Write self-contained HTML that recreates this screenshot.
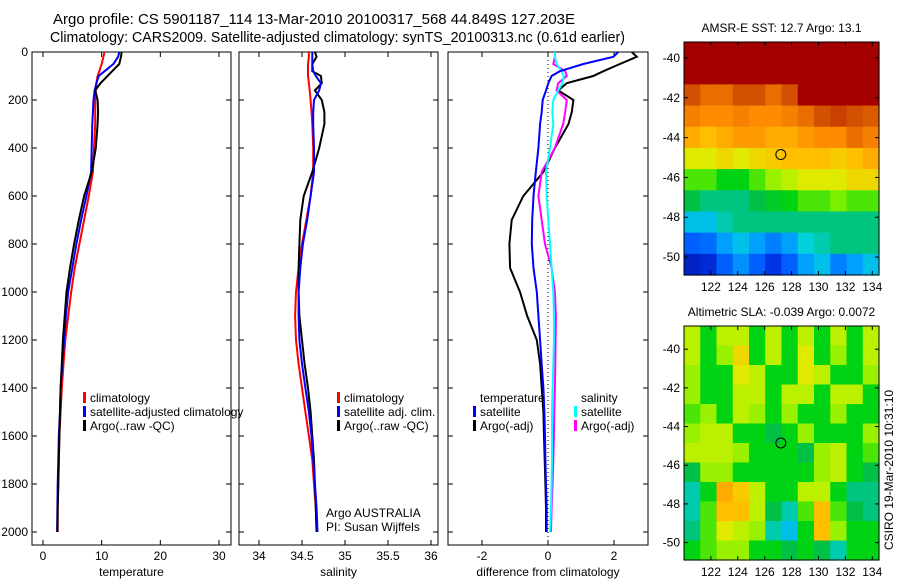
<!DOCTYPE html>
<html><head><meta charset="utf-8"><style>
body{margin:0;background:#fff;}
svg{display:block;font-family:"Liberation Sans",sans-serif;}
</style></head><body>
<svg id="c" width="900" height="580" viewBox="0 0 900 580">
<text x="53" y="24" font-size="15" textLength="522" lengthAdjust="spacingAndGlyphs">Argo profile: CS 5901187_114 13-Mar-2010 20100317_568 44.849S 127.203E</text>
<text x="50" y="42" font-size="14.5" textLength="575" lengthAdjust="spacingAndGlyphs">Climatology: CARS2009. Satellite-adjusted climatology: synTS_20100313.nc (0.61d earlier)</text>
</svg>
<script>
const depths=[0,20,50,80,100,130,160,200,250,300,400,500,600,700,800,900,1000,1100,1200,1300,1400,1500,1600,1700,1800,1900,2000];
const tempClim=[10.5,10.3,10,9.6,9.3,9.1,9.0,8.9,8.9,8.9,8.7,8.5,7.8,7.0,6.2,5.4,4.8,4.3,3.8,3.5,3.2,3.0,2.8,2.7,2.6,2.5,2.5];
const tempSat=[13,12.8,12,10.5,9.5,9.1,8.8,8.6,8.5,8.4,8.3,8.2,7.4,6.5,5.7,5.0,4.3,3.9,3.6,3.3,3.0,2.9,2.7,2.6,2.5,2.45,2.4];
const tempArgo=[13.4,13.3,13.0,11.8,11.0,9.8,8.9,9.3,9.4,9.3,9.0,8.3,7.0,6.1,5.3,4.6,4.0,3.7,3.4,3.2,3.0,2.9,2.8,2.7,2.6,2.5,2.45];
const salClim=[34.58,34.58,34.57,34.57,34.57,34.58,34.59,34.6,34.61,34.62,34.63,34.63,34.6,34.55,34.5,34.46,34.43,34.42,34.43,34.46,34.5,34.54,34.58,34.62,34.64,34.66,34.67];
const salSat=[34.62,34.62,34.62,34.63,34.66,34.72,34.7,34.64,34.63,34.63,34.64,34.64,34.6,34.56,34.51,34.48,34.46,34.46,34.47,34.5,34.54,34.58,34.61,34.63,34.65,34.67,34.68];
const salArgo=[34.65,34.67,34.62,34.62,34.72,34.73,34.65,34.73,34.76,34.76,34.7,34.62,34.52,34.48,34.47,34.46,34.46,34.47,34.5,34.53,34.57,34.6,34.62,34.64,34.65,34.66,34.67];
const diffTempSat=[2.13,1.98,1.07,0.36,0.11,0.01,-0.06,-0.16,-0.19,-0.24,-0.29,-0.37,-0.44,-0.48,-0.49,-0.44,-0.34,-0.29,-0.24,-0.19,-0.14,-0.11,-0.09,-0.08,-0.06,-0.04,-0.04];
const diffTempArgo=[2.54,2.69,2.18,1.68,1.37,0.57,0.31,0.77,0.72,0.62,0.21,-0.14,-0.75,-1.10,-1.17,-1.15,-0.85,-0.63,-0.34,-0.24,-0.19,-0.14,-0.12,-0.10,-0.08,-0.06,-0.06];
const diffSalSat=[0.21,0.21,0.26,0.41,0.48,0.44,0.31,0.16,0.13,0.16,0.06,-0.06,-0.04,0.01,0.06,0.11,0.16,0.18,0.18,0.16,0.14,0.12,0.12,0.12,0.11,0.09,0.06];
const diffSalArgo=[0.21,0.21,0.16,0.52,0.57,0.31,0.26,0.57,0.52,0.46,0.21,-0.19,-0.29,-0.19,-0.09,0.11,0.21,0.24,0.23,0.22,0.21,0.19,0.18,0.16,0.14,0.11,0.09];
const depthTicks=[0,200,400,600,800,1000,1200,1400,1600,1800,2000];
const tempTicks=[0,10,20,30];
const salTicks=[34,34.5,35,35.5,36];
const diffTicks=[-2,0,2];
const lonTicks=[122,124,126,128,130,132,134];
const latTicks=[-40,-42,-44,-46,-48,-50];
const sstGrid=[
[1,1,1,1,1,1,1,1,1,1,1,1],
[1,1,1,1,1,1,1,1,1,1,1,1],
[0.9,0.85,0.85,0.9,0.9,0.85,0.9,1,1,1,1,1],
[0.82,0.8,0.8,0.82,0.8,0.8,0.82,0.85,0.9,0.92,0.9,0.88],
[0.75,0.72,0.75,0.78,0.78,0.75,0.75,0.78,0.8,0.8,0.85,0.82],
[0.65,0.65,0.68,0.65,0.68,0.7,0.72,0.72,0.72,0.7,0.72,0.75],
[0.55,0.55,0.5,0.5,0.55,0.6,0.62,0.65,0.65,0.65,0.68,0.68],
[0.45,0.42,0.42,0.42,0.45,0.48,0.5,0.55,0.55,0.58,0.55,0.55],
[0.35,0.35,0.4,0.42,0.42,0.42,0.42,0.42,0.42,0.42,0.42,0.42],
[0.2,0.22,0.3,0.35,0.3,0.25,0.3,0.38,0.4,0.42,0.42,0.42],
[0.08,0.1,0.2,0.28,0.2,0.12,0.2,0.3,0.35,0.25,0.3,0.35]];
const slaGrid=[
[.62,.5,.62,.62,.5,.62,.5,.62,.5,.62,.5,.62],
[.62,.5,.6,.68,.5,.62,.5,.65,.5,.6,.5,.62],
[.6,.5,.5,.65,.62,.5,.5,.65,.62,.5,.5,.6],
[.6,.5,.5,.62,.62,.5,.62,.62,.5,.62,.62,.5],
[.55,.6,.5,.62,.6,.5,.6,.5,.5,.6,.5,.5],
[.6,.62,.62,.5,.5,.45,.5,.6,.5,.5,.5,.6],
[.62,.62,.62,.6,.5,.5,.5,.45,.6,.62,.5,.55],
[.45,.6,.6,.5,.5,.5,.5,.5,.6,.62,.5,.45],
[.4,.5,.75,.7,.62,.5,.5,.62,.62,.5,.42,.42],
[.4,.55,.72,.72,.62,.45,.4,.55,.72,.55,.45,.42],
[.42,.55,.65,.62,.6,.4,.35,.5,.72,.6,.5,.5],
[.5,.55,.6,.6,.5,.5,.45,.5,.45,.4,.5,.5]];
const argoLon=127.2, argoLat=-44.85;

const NS='http://www.w3.org/2000/svg';
const svg=document.getElementById('c');
function mk(tag,attrs,parent){const e=document.createElementNS(NS,tag);for(const k in attrs)e.setAttribute(k,attrs[k]);(parent||svg).appendChild(e);return e;}
function txt(x,y,s,attrs){const e=mk('text',Object.assign({x:x,y:y,'font-size':12},attrs||{}));e.textContent=s;return e;}
function lin(d0,d1,p0,p1){return v=>p0+(v-d0)*(p1-p0)/(d1-d0);}

const yD=lin(0,2000,52,532);
const panels=[
 {name:'temperature',x0:32,x1:231,xs:lin(0,30,43,219),ticks:tempTicks,label:'temperature'},
 {name:'salinity',x0:239,x1:438,xs:lin(34,36,259,431),ticks:salTicks,label:'salinity'},
 {name:'difference',x0:448,x1:648,xs:lin(0,2,548,614),ticks:diffTicks,label:'difference from climatology'}];
const yTop=52,yBot=545;
panels.forEach((p,i)=>{
 const g=mk('g',{});
 
 
 const r=mk('rect',{x:p.x0,y:yTop,width:p.x1-p.x0,height:yBot-yTop,fill:'none',stroke:'#000','stroke-width':1},g);
 
 
 p.ticks.forEach(t=>{const x=p.xs(t);
  mk('line',{x1:x,y1:yBot,x2:x,y2:yBot-5,stroke:'#000'},g);mk('line',{x1:x,y1:yTop,x2:x,y2:yTop+5,stroke:'#000'},g);
  const tl=txt(x,560,String(t),{'text-anchor':'middle'});
  
  });
 depthTicks.forEach(t=>{const y=yD(t);
  mk('line',{x1:p.x0,y1:y,x2:p.x0+5,y2:y,stroke:'#000'},g);mk('line',{x1:p.x1,y1:y,x2:p.x1-5,y2:y,stroke:'#000'},g);
  if(i===0){const tl=txt(28,y+4,String(t),{'text-anchor':'end'});
   
   }});
 const xl=txt((p.x0+p.x1)/2,576,p.label,{'text-anchor':'middle'});
 
 
});
function prof(arr,xs,color,name){
 const pts=arr.map((v,k)=>xs(v).toFixed(1)+','+yD(depths[k]).toFixed(1)).join(' ');
 const e=mk('polyline',{points:pts,fill:'none',stroke:color,'stroke-width':2});
 
 
}
const zl=mk('line',{x1:panels[2].xs(0),y1:yTop,x2:panels[2].xs(0),y2:yBot,stroke:'#000','stroke-dasharray':'1,3'});


prof(tempClim,panels[0].xs,'#f00','temp-climatology-line');
prof(tempSat,panels[0].xs,'#00f','temp-satellite-line');
prof(tempArgo,panels[0].xs,'#000','temp-argo-line');
prof(salClim,panels[1].xs,'#f00','sal-climatology-line');
prof(salArgo,panels[1].xs,'#000','sal-argo-line');
prof(salSat,panels[1].xs,'#00f','sal-satellite-line');
prof(diffTempArgo,panels[2].xs,'#000','diff-temp-argo-line');
prof(diffSalArgo,panels[2].xs,'#f0f','diff-sal-argo-line');
prof(diffSalSat,panels[2].xs,'#0ff','diff-sal-satellite-line');
prof(diffTempSat,panels[2].xs,'#00f','diff-temp-satellite-line');

function legend(x,y,items,name){
 items.forEach((it,k)=>{const yy=y+k*14;
  if(it[1]){const b=mk('rect',{x:x,y:yy-10,width:3,height:11,fill:it[1]});
   
   }
  const t=txt(x+7,yy,it[0]);
  
  });
}
legend(83,402,[['climatology','#f00'],['satellite-adjusted climatology','#00f'],['Argo(..raw -QC)','#000']],'temp-legend');
legend(337,402,[['climatology','#f00'],['satellite adj. clim.','#00f'],['Argo(..raw -QC)','#000']],'sal-legend');
legend(473,402,[['temperature',null],['satellite','#00f'],['Argo(-adj)','#000']],'diff-temp-legend');
legend(574,402,[['salinity',null],['satellite','#0ff'],['Argo(-adj)','#f0f']],'diff-sal-legend');
let t1=txt(326,517,'Argo AUSTRALIA');
let t2=txt(326,531,'PI: Susan Wijffels');

const stops=[[0,[0,0,128]],[0.15,[0,64,255]],[0.3,[0,160,255]],[0.38,[0,210,220]],[0.44,[0,190,80]],[0.5,[0,210,20]],[0.58,[120,240,0]],[0.64,[220,240,0]],[0.72,[255,190,0]],[0.8,[255,140,0]],[0.9,[210,80,0]],[1,[165,0,0]]];
function cmap(v){for(let i=1;i<stops.length;i++){if(v<=stops[i][0]){const a=stops[i-1],b=stops[i],f=(v-a[0])/(b[0]-a[0]);return 'rgb('+a[1].map((c,j)=>Math.round(c+(b[1][j]-c)*f)).join(',')+')';}}return 'rgb(165,0,0)';}
function map(grid,x0,x1,y0,y1,latTop,latBot,title,name){
 const g=mk('g',{});
 
 
 const rows=grid.length,cols=grid[0].length,cw=(x1-x0)/cols,ch=(y1-y0)/rows;
 grid.forEach((row,r)=>row.forEach((v,c)=>{const e=mk('rect',{x:x0+c*cw,y:y0+r*ch,width:cw+0.6,height:ch+0.6,fill:cmap(v)},g);
  
  }));
 const xs=lin(120,134.5,x0,x1), ys=lin(latTop,latBot,y0,y1);
 mk('rect',{x:x0,y:y0,width:x1-x0,height:y1-y0,fill:'none',stroke:'#000'},g);
 lonTicks.forEach(t=>{const x=xs(t);mk('line',{x1:x,y1:y1,x2:x,y2:y1-4,stroke:'#000'},g);mk('line',{x1:x,y1:y0,x2:x,y2:y0+4,stroke:'#000'},g);
  const l=txt(x,y1+16,String(t),{'text-anchor':'middle'});});
 latTicks.forEach(t=>{const y=ys(t);mk('line',{x1:x0,y1:y,x2:x0+4,y2:y,stroke:'#000'},g);mk('line',{x1:x1,y1:y,x2:x1-4,y2:y,stroke:'#000'},g);
  const l=txt(x0-4,y+4,String(t),{'text-anchor':'end'});});
 const m=mk('circle',{cx:xs(argoLon),cy:ys(argoLat),r:5,fill:'none',stroke:'#000'},g);
 
 
 const tt=txt((x0+x1)/2,y0-10,title,{'text-anchor':'middle'});
 
 
}
map(sstGrid,684,879,42,275,-39.2,-50.9,'AMSR-E SST: 12.7 Argo: 13.1','sst-map');
map(slaGrid,684,879,326,560,-38.8,-50.9,'Altimetric SLA: -0.039 Argo: 0.0072','sla-map');
const cs=txt(0,0,'CSIRO 19-Mar-2010 10:31:10',{'text-anchor':'middle',transform:'translate(893,470) rotate(-90)'});


</script>
</body></html>
